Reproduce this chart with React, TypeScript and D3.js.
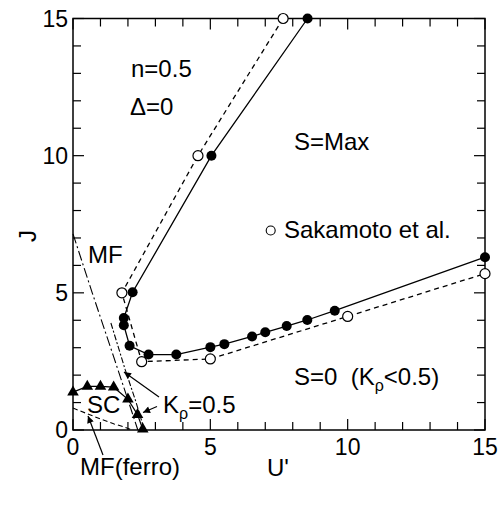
import React from 'react';
import * as d3 from 'd3';

// S=Max / S=0 boundary, present work (filled circles, solid line)
const filledPts: [number, number][] = [
  [8.54, 15.0], [5.04, 10.0], [2.17, 5.02], [1.85, 4.08], [1.85, 3.82], [2.06, 3.07],
  [2.75, 2.75], [3.76, 2.75], [5.0, 3.02], [5.51, 3.13], [6.52, 3.41], [7.0, 3.56],
  [7.78, 3.79], [8.53, 4.01], [9.53, 4.35], [15.0, 6.3],
];

// Sakamoto et al. (open circles, dashed line)
const openPts: [number, number][] = [
  [7.65, 15.0], [4.55, 10.0], [1.78, 5.0], [2.5, 2.49], [5.0, 2.59], [10.0, 4.14], [15.0, 5.7],
];

// SC boundary (triangles)
const scPts: [number, number][] = [
  [0, 1.38], [0.52, 1.59], [1.0, 1.59], [1.48, 1.56], [2.0, 1.12], [2.35, 0.56], [2.54, 0.03],
];

// mean-field lines
const mfLine: [number, number][] = [[0, 7.15], [0.7, 5.0], [1.47, 2.7], [2.0, 1.1], [2.36, 0]];
const krhoLine: [number, number][] = [[1.38, 3.9], [1.9, 2.2], [2.3, 1.0], [2.6, 0]];
const mfFerroLine: [number, number][] = [[0, 0.8], [0.5, 0.6], [1.0, 0.4], [1.5, 0.22], [1.84, 0.12], [2.15, 0]];

const majorTicks = [0, 5, 10, 15];
const minorTicks = d3.range(0, 16);

const W = 502;
const H = 516;
const left = 73, right = 485, top = 18.5, bottom = 430;
const font = 'Liberation Sans, Arial, Helvetica, sans-serif';

const x = d3.scaleLinear().domain([0, 15]).range([left, right]);
const y = d3.scaleLinear().domain([0, 15]).range([bottom, top]);

const line = d3.line<[number, number]>().x(d => x(d[0])).y(d => y(d[1]));

const tri = d3.symbol().type(d3.symbolTriangle).size(58);

const App = () => {
  const tickLen = (v: number) => (majorTicks.includes(v) ? 11 : 8);
  return (
    <svg width={W} height={H} style={{ position: 'absolute', left: 0, top: 0, background: '#fff' }}
      fontFamily={font}>
      <defs>
        <marker id="ah" viewBox="0 0 10 10" refX="10" refY="5" markerWidth="11" markerHeight="7"
          markerUnits="userSpaceOnUse" orient="auto">
          <path d="M0,0L10,5L0,10z" fill="#000" />
        </marker>
      </defs>

      {/* frame */}
      <rect x={left} y={top} width={right - left} height={bottom - top} fill="none" stroke="#000" strokeWidth={1.5} />

      {/* ticks */}
      {minorTicks.map(v => (
        <g key={'t' + v} stroke="#000" strokeWidth={1.2}>
          <line x1={x(v)} x2={x(v)} y1={bottom} y2={bottom - tickLen(v)} />
          <line x1={x(v)} x2={x(v)} y1={top} y2={top + tickLen(v)} />
          <line x1={left} x2={left + tickLen(v)} y1={y(v)} y2={y(v)} />
          <line x1={right} x2={right - tickLen(v)} y1={y(v)} y2={y(v)} />
        </g>
      ))}

      {/* tick labels */}
      {majorTicks.map(v => (
        <text key={'xl' + v} x={x(v)} y={455} fontSize={23} textAnchor="middle">{v}</text>
      ))}
      {majorTicks.map(v => (
        <text key={'yl' + v} x={68} y={y(v) + 8} fontSize={23} textAnchor="end">{v}</text>
      ))}

      <text x={278} y={476} fontSize={24} textAnchor="middle">U'</text>
      <text transform={`translate(28,236) rotate(-90)`} fontSize={24} textAnchor="middle" dy="0.35em">J</text>

      {/* lines */}
      <path d={line(mfLine) || ''} fill="none" stroke="#000" strokeWidth={1.1} strokeDasharray="10,3,2,3" />
      <path d={line(krhoLine) || ''} fill="none" stroke="#000" strokeWidth={1.1} strokeDasharray="6,2,2,2" />
      <path d={line(mfFerroLine) || ''} fill="none" stroke="#000" strokeWidth={1.1} strokeDasharray="5,3" />
      <path d={line(scPts) || ''} fill="none" stroke="#000" strokeWidth={1.2} />
      <path d={line(openPts) || ''} fill="none" stroke="#000" strokeWidth={1.3} strokeDasharray="5,4" />
      <path d={line(filledPts) || ''} fill="none" stroke="#000" strokeWidth={1.3} />

      {/* markers */}
      {scPts.map((d, i) => (
        <path key={'s' + i} d={tri() || ''} transform={`translate(${x(d[0])},${y(d[1])})`} fill="#000" />
      ))}
      {openPts.map((d, i) => (
        <circle key={'o' + i} cx={x(d[0])} cy={y(d[1])} r={5} fill="#fff" stroke="#000" strokeWidth={1.2} />
      ))}
      {filledPts.map((d, i) => (
        <circle key={'f' + i} cx={x(d[0])} cy={y(d[1])} r={5} fill="#000" />
      ))}

      {/* annotations */}
      <text x={131} y={77} fontSize={24}>n=0.5</text>
      <text x={130} y={115} fontSize={24}>Δ=0</text>
      <text x={294} y={150} fontSize={24}>S=Max</text>
      <circle cx={270.7} cy={230.5} r={4.5} fill="#fff" stroke="#000" strokeWidth={1.1} />
      <text x={284} y={238} fontSize={24}>Sakamoto et al.</text>
      <text x={294} y={385} fontSize={24} xmlSpace="preserve">
        S=0  (K<tspan fontSize={16} dy={6}>ρ</tspan><tspan dy={-6}>&lt;0.5)</tspan>
      </text>
      <text x={88} y={263} fontSize={24}>MF</text>
      <text x={87} y={413} fontSize={24}>SC</text>
      <text x={163} y={413} fontSize={24}>
        K<tspan fontSize={16} dy={6}>ρ</tspan><tspan dy={-6}>=0.5</tspan>
      </text>
      <text x={80} y={475} fontSize={24}>MF(ferro)</text>

      {/* arrows */}
      <line x1={159} y1={397} x2={124} y2={372} stroke="#000" strokeWidth={1.2} markerEnd="url(#ah)" />
      <line x1={157} y1={406.5} x2={143} y2={412.5} stroke="#000" strokeWidth={1.2} markerEnd="url(#ah)" />
      <line x1={103} y1={455} x2={88} y2={416} stroke="#000" strokeWidth={1.2} markerEnd="url(#ah)" />
    </svg>
  );
};

export default App;
